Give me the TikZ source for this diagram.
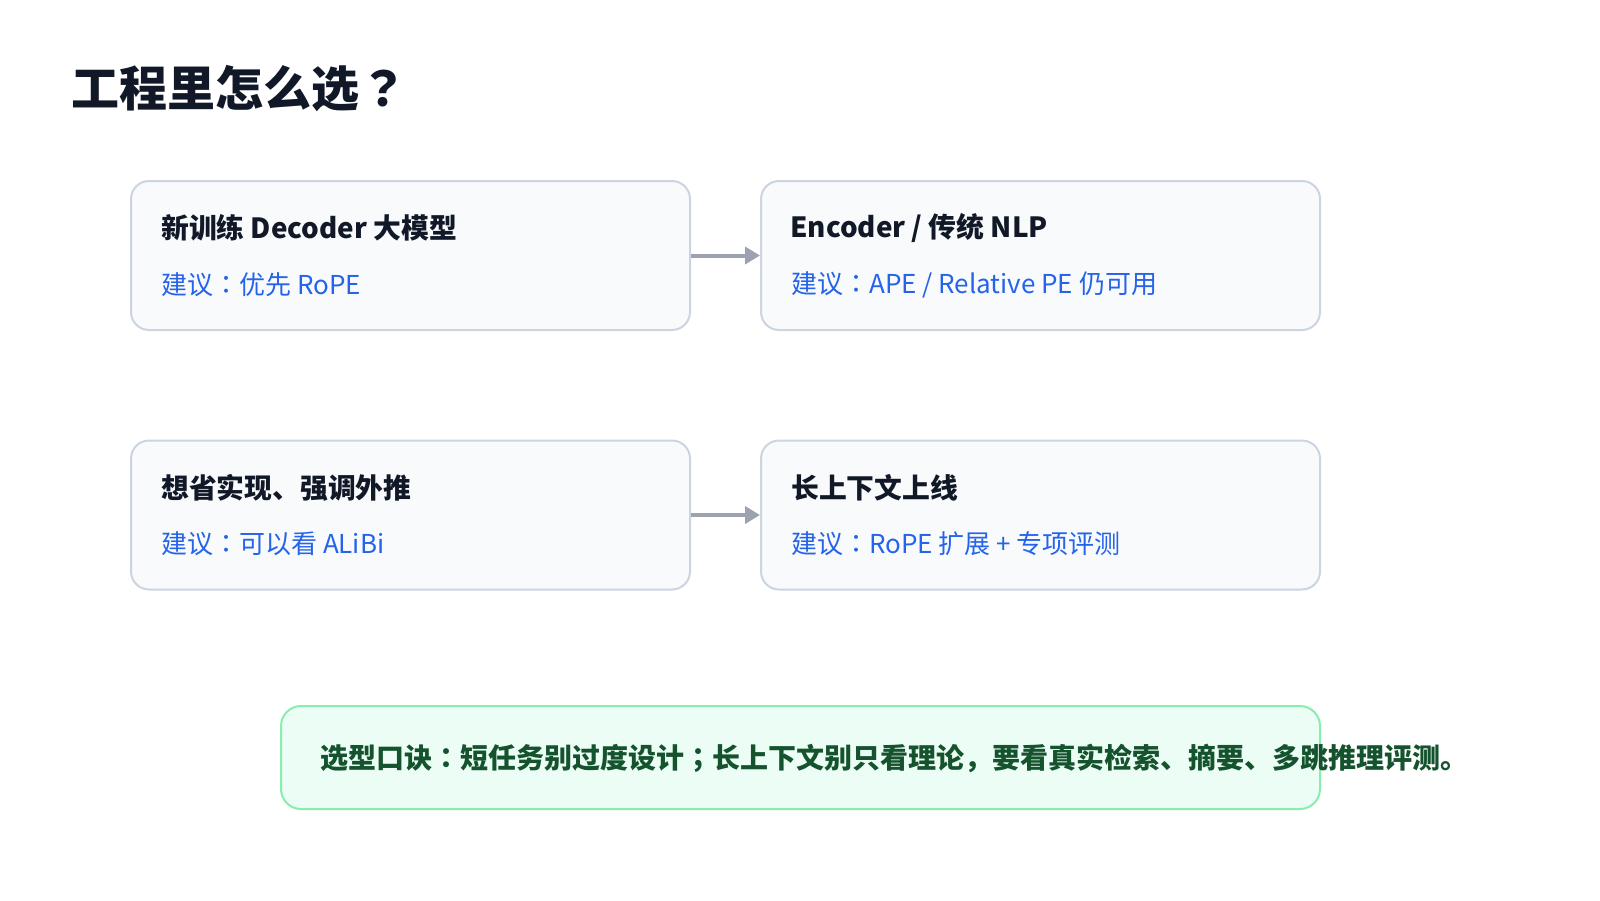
\documentclass[tikz,border=0pt]{standalone}
\usepackage{fontspec}
\setmainfont{Noto Sans CJK SC}
\newfontfamily\jp{Noto Sans CJK JP}
\newcommand\cn{{\jp ：}}
\newcommand\sm{{\jp ；}}
\newcommand\qm{{\jp ？}}
\usetikzlibrary{arrows.meta}
\definecolor{ink}{HTML}{111827}
\definecolor{hintblue}{HTML}{2563EB}
\definecolor{cardfill}{HTML}{F8FAFC}
\definecolor{cardline}{HTML}{CBD5E1}
\definecolor{arrowgray}{HTML}{9CA3AF}
\definecolor{notefill}{HTML}{ECFDF5}
\definecolor{noteline}{HTML}{86EFAC}
\definecolor{notetext}{HTML}{14532D}
\begin{document}
\begin{tikzpicture}[x=1pt,y=-1pt,
    card/.style={draw=cardline,line width=2pt,fill=cardfill,rounded corners=18pt,
      minimum width=559pt,minimum height=149pt,inner sep=0pt},
    head/.style={anchor=west,inner sep=0pt,text=ink,font=\fontsize{27.8}{33}\selectfont\bfseries},
    hint/.style={anchor=west,inner sep=0pt,text=hintblue,font=\fontsize{26}{31}\selectfont},
    link/.style={draw=arrowgray,line width=4pt,-{Triangle[length=15pt,width=17pt]}}]
    \useasboundingbox (0,0) rectangle (1600,900);
    % title
    \node[anchor=west,inner sep=0pt,text=ink,font=\fontsize{48}{54}\selectfont\bfseries] (title) at (71,89) {工程里怎么选\qm};
    % first row
    \node[card] (decoder) at (410.5,255.5) {};
    \node[card] (encoder) at (1040.5,255.5) {};
    \node[head] (decoderhead) at (161,228) {新训练 Decoder 大模型};
    \node[hint] (decoderhint) at (161,285) {建议\cn 优先 RoPE};
    \node[head] (encoderhead) at (790,228) {Encoder / 传统 NLP};
    \node[hint] (encoderhint) at (791,285) {建议\cn APE / Relative PE 仍可用};
    \draw[link] (decoder) -- (encoder);
    % second row
    \node[card] (alibi) at (410.5,515) {};
    \node[card] (longctx) at (1040.5,515) {};
    \node[head] (alibihead) at (161,488) {想省实现、强调外推};
    \node[hint] (alibihint) at (161,544) {建议\cn 可以看 ALiBi};
    \node[head] (longctxhead) at (791,488) {长上下文上线};
    \node[hint] (longctxhint) at (791,544) {建议\cn RoPE 扩展 + 专项评测};
    \draw[link] (alibi) -- (longctx);
    % note
    \node[draw=noteline,line width=2pt,fill=notefill,rounded corners=20pt,
      minimum width=1039pt,minimum height=103pt] (note) at (800.5,757.5) {};
    \node[anchor=west,inner sep=0pt,text=notetext,font=\fontsize{28}{32}\selectfont\bfseries] (notetext) at (320,758)
      {选型口诀\cn 短任务别过度设计\sm 长上下文别只看理论，要看真实检索、摘要、多跳推理评测。};
\end{tikzpicture}
\end{document}
